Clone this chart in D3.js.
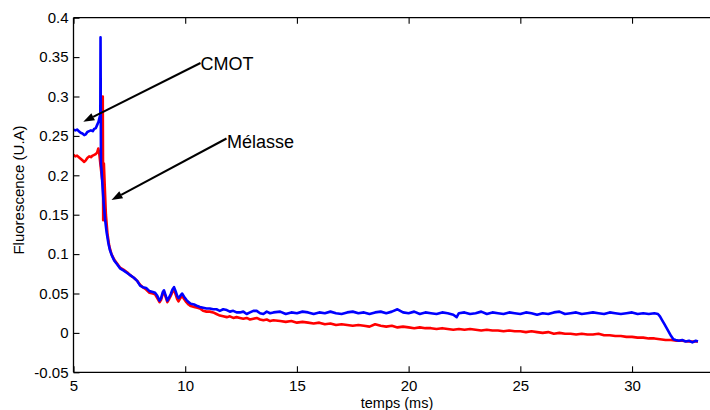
<!DOCTYPE html>
<html><head><meta charset="utf-8">
<script src="https://cdn.jsdelivr.net/npm/d3@7"></script>
<style>html,body{margin:0;padding:0;background:#fff;}svg{display:block;font-family:"Liberation Sans",Arial,sans-serif;}</style>
</head><body>
<svg id="chart" width="710" height="410"></svg>
<script>
const xTicks = [5, 10, 15, 20, 25, 30];
const yTicks = [-0.05, 0, 0.05, 0.1, 0.15, 0.2, 0.25, 0.3, 0.35, 0.4];
const yTickLabels = ["-0.05", "0", "0.05", "0.1", "0.15", "0.2", "0.25", "0.3", "0.35", "0.4"];
const xLabel = "temps (ms)";
const yLabel = "Fluorescence (U.A)";
const seriesNames = ["CMOT", "Mélasse"];

const cmotTime = [5.00,5.08,5.16,5.24,5.32,5.40,5.48,5.55,5.62,5.70,5.78,5.86,5.93,6.00,6.06,6.12,6.17,6.20,6.21,6.23,6.26,6.30,6.35,6.41,6.48,6.56,6.63,6.72,6.82,6.95,7.08,7.25,7.40,7.55,7.70,7.85,7.98,8.10,8.25,8.40,8.55,8.65,8.75,8.85,8.92,9.00,9.05,9.12,9.20,9.28,9.35,9.43,9.50,9.57,9.64,9.70,9.78,9.86,9.95,10.05,10.15,10.25,10.40,10.55,10.66,10.80,10.95,11.10,11.25,11.40,11.55,11.70,11.86,12.00,12.15,12.30,12.45,12.60,12.75,12.90,13.05,13.20,13.35,13.50,13.65,13.80,13.95,14.25,14.50,14.75,15.00,15.25,15.50,15.75,16.00,16.25,16.50,16.75,17.00,17.25,17.50,17.75,18.00,18.25,18.50,18.75,19.00,19.25,19.50,19.75,20.00,20.25,20.50,20.75,21.00,21.25,21.50,21.75,22.00,22.15,22.25,22.50,22.75,23.00,23.25,23.50,23.75,24.00,24.25,24.50,24.75,25.00,25.25,25.50,25.75,26.00,26.25,26.50,26.75,27.00,27.25,27.50,27.75,28.00,28.25,28.50,28.75,29.00,29.25,29.50,29.75,30.00,30.25,30.50,30.75,31.00,31.16,31.25,31.35,31.45,31.55,31.65,31.75,31.85,31.95,32.10,32.25,32.40,32.55,32.70,32.85,32.95];
const cmotFluo = [0.258,0.257,0.258,0.256,0.254,0.253,0.251,0.252,0.255,0.256,0.257,0.256,0.259,0.260,0.264,0.268,0.274,0.276,0.375,0.214,0.205,0.185,0.165,0.145,0.128,0.114,0.105,0.098,0.092,0.087,0.082,0.079,0.076,0.073,0.070,0.066,0.060,0.058,0.057,0.053,0.052,0.051,0.047,0.041,0.044,0.052,0.054,0.048,0.041,0.045,0.049,0.055,0.058,0.053,0.047,0.044,0.047,0.050,0.046,0.042,0.039,0.037,0.036,0.034,0.033,0.032,0.031,0.031,0.030,0.030,0.028,0.030,0.029,0.027,0.028,0.026,0.026,0.027,0.024,0.026,0.028,0.028,0.025,0.024,0.027,0.025,0.026,0.027,0.024,0.026,0.025,0.027,0.026,0.024,0.026,0.025,0.027,0.025,0.024,0.026,0.027,0.025,0.026,0.024,0.026,0.027,0.025,0.027,0.030,0.026,0.025,0.027,0.024,0.026,0.025,0.024,0.026,0.025,0.023,0.020,0.025,0.026,0.024,0.025,0.027,0.024,0.026,0.025,0.024,0.026,0.025,0.024,0.026,0.025,0.023,0.025,0.024,0.026,0.027,0.024,0.025,0.026,0.024,0.025,0.026,0.025,0.024,0.026,0.025,0.024,0.025,0.026,0.024,0.025,0.024,0.025,0.024,0.021,0.016,0.011,0.006,0.001,-0.004,-0.008,-0.009,-0.010,-0.009,-0.011,-0.010,-0.012,-0.010,-0.011];

const melasseTime = [5.00,5.08,5.16,5.24,5.32,5.40,5.48,5.55,5.62,5.70,5.78,5.86,5.93,6.00,6.06,6.11,6.16,6.22,6.28,6.31,6.33,6.36,6.40,6.45,6.52,6.60,6.70,6.82,6.95,7.08,7.25,7.40,7.55,7.70,7.85,7.98,8.10,8.25,8.40,8.55,8.65,8.75,8.85,8.92,9.00,9.05,9.12,9.20,9.28,9.35,9.43,9.50,9.57,9.64,9.70,9.78,9.86,9.95,10.05,10.15,10.25,10.40,10.55,10.66,10.80,10.95,11.10,11.25,11.40,11.55,11.70,11.86,12.00,12.15,12.30,12.45,12.60,12.75,12.90,13.05,13.20,13.35,13.50,13.65,13.80,13.95,14.25,14.50,14.75,15.00,15.25,15.50,15.75,16.00,16.25,16.50,16.75,17.00,17.25,17.50,17.75,18.00,18.25,18.50,18.75,19.00,19.25,19.50,19.75,20.00,20.25,20.50,20.75,21.00,21.25,21.50,21.75,22.00,22.25,22.50,22.75,23.00,23.25,23.50,23.75,24.00,24.25,24.50,24.75,25.00,25.25,25.50,25.75,26.00,26.25,26.50,26.75,27.00,27.25,27.50,27.75,28.00,28.25,28.50,28.75,29.00,29.25,29.50,29.75,30.00,30.25,30.50,30.75,31.00,31.25,31.50,31.75,32.00,32.25,32.50,32.75,32.95];
const melasseFluo = [0.226,0.224,0.225,0.223,0.221,0.219,0.217,0.219,0.222,0.224,0.223,0.225,0.226,0.227,0.229,0.234,0.226,0.210,0.195,0.300,0.143,0.215,0.185,0.150,0.126,0.110,0.100,0.093,0.088,0.083,0.080,0.077,0.073,0.070,0.066,0.061,0.058,0.055,0.051,0.050,0.049,0.044,0.039,0.042,0.050,0.052,0.046,0.039,0.043,0.047,0.052,0.055,0.049,0.043,0.040,0.044,0.047,0.043,0.039,0.036,0.034,0.033,0.032,0.031,0.028,0.027,0.027,0.026,0.024,0.022,0.021,0.020,0.021,0.019,0.020,0.019,0.018,0.019,0.017,0.018,0.019,0.017,0.016,0.017,0.015,0.016,0.015,0.014,0.015,0.013,0.014,0.013,0.012,0.013,0.011,0.012,0.010,0.011,0.010,0.009,0.010,0.009,0.008,0.011,0.009,0.008,0.009,0.007,0.008,0.007,0.006,0.007,0.006,0.006,0.005,0.006,0.005,0.004,0.005,0.004,0.005,0.004,0.003,0.004,0.003,0.003,0.002,0.003,0.002,0.002,0.001,0.002,0.001,0.000,0.001,-0.001,0.000,-0.001,-0.001,-0.002,-0.001,-0.002,-0.002,-0.001,-0.003,-0.003,-0.004,-0.004,-0.005,-0.005,-0.006,-0.006,-0.007,-0.007,-0.008,-0.009,-0.009,-0.010,-0.010,-0.011,-0.011,-0.011];

const svg = d3.select("#chart");
const mLeft = 73.5, mTop = 17.7, mBottom = 372.3, mRight = 721.4;
const x = d3.scaleLinear().domain([5, 34]).range([mLeft, mRight]);
const y = d3.scaleLinear().domain([-0.05, 0.4]).range([mBottom, mTop]);

svg.append("defs").append("clipPath").attr("id", "clip")
  .append("rect").attr("x", mLeft).attr("y", mTop).attr("width", mRight - mLeft).attr("height", mBottom - mTop);

const line = d3.line().x(d => x(d[0])).y(d => y(d[1]));
const plot = svg.append("g").attr("clip-path", "url(#clip)");
plot.append("path").datum(d3.zip(melasseTime, melasseFluo)).attr("d", line)
  .attr("fill", "none").attr("stroke", "#ff0000").attr("stroke-width", 2.6).attr("stroke-linejoin", "round");
plot.append("path").datum(d3.zip(cmotTime, cmotFluo)).attr("d", line)
  .attr("fill", "none").attr("stroke", "#0000ff").attr("stroke-width", 2.6).attr("stroke-linejoin", "round");

const axB = svg.append("g").attr("transform", `translate(0,${mBottom})`)
  .call(d3.axisBottom(x).tickValues(xTicks).tickSize(-6).tickPadding(8).tickFormat(d3.format("d")));
const axT = svg.append("g").attr("transform", `translate(0,${mTop})`)
  .call(d3.axisTop(x).tickValues(xTicks).tickSize(-6).tickFormat(""));
const axL = svg.append("g").attr("transform", `translate(${mLeft},0)`)
  .call(d3.axisLeft(y).tickValues(yTicks).tickSize(-6).tickPadding(5).tickFormat((d, i) => yTickLabels[i]));
const axR = svg.append("g").attr("transform", `translate(${mRight},0)`)
  .call(d3.axisRight(y).tickValues(yTicks).tickSize(-6).tickFormat(""));
[axB, axT, axL, axR].forEach(g => {
  g.select(".domain").attr("stroke", "#000").attr("stroke-width", 1.3);
  g.selectAll(".tick line").attr("stroke", "#000").attr("stroke-width", 1.1);
  g.selectAll(".tick text").attr("fill", "#000").style("font-size", "15px").style("font-family", "Liberation Sans, Arial, sans-serif");
});
axB.select(".domain").attr("d", `M${mLeft},0H${mRight}`);
axT.select(".domain").attr("d", `M${mLeft},0H${mRight}`);
axL.select(".domain").attr("d", `M0,${mTop}V${mBottom}`);
axR.select(".domain").attr("d", `M0,${mTop}V${mBottom}`);

svg.append("text").attr("x", 397).attr("y", 407.5).attr("text-anchor", "middle")
  .style("font-size", "14.5px").text(xLabel);
svg.append("text").attr("transform", "translate(24,190) rotate(-90)").attr("text-anchor", "middle")
  .style("font-size", "15px").text(yLabel);

const annots = [
  {text: seriesNames[0], tx: 200.5, ty: 70, x1: 200.5, y1: 63, x2: 83.3, y2: 121.7},
  {text: seriesNames[1], tx: 227, ty: 148, x1: 226.5, y1: 138.5, x2: 111.5, y2: 200}
];
annots.forEach(a => {
  const ang = Math.atan2(a.y2 - a.y1, a.x2 - a.x1);
  const L = 11, W = 4;
  const bx = a.x2 - L * Math.cos(ang), by = a.y2 - L * Math.sin(ang);
  svg.append("line").attr("x1", a.x1).attr("y1", a.y1).attr("x2", bx).attr("y2", by)
    .attr("stroke", "#000").attr("stroke-width", 2);
  const px = -Math.sin(ang), py = Math.cos(ang);
  svg.append("path").attr("d", `M${a.x2},${a.y2}L${bx + W*px},${by + W*py}L${bx - W*px},${by - W*py}Z`)
    .attr("fill", "#000");
  svg.append("text").attr("x", a.tx).attr("y", a.ty).style("font-size", "18px").attr("fill", "#000").text(a.text);
});
</script>
</body></html>
